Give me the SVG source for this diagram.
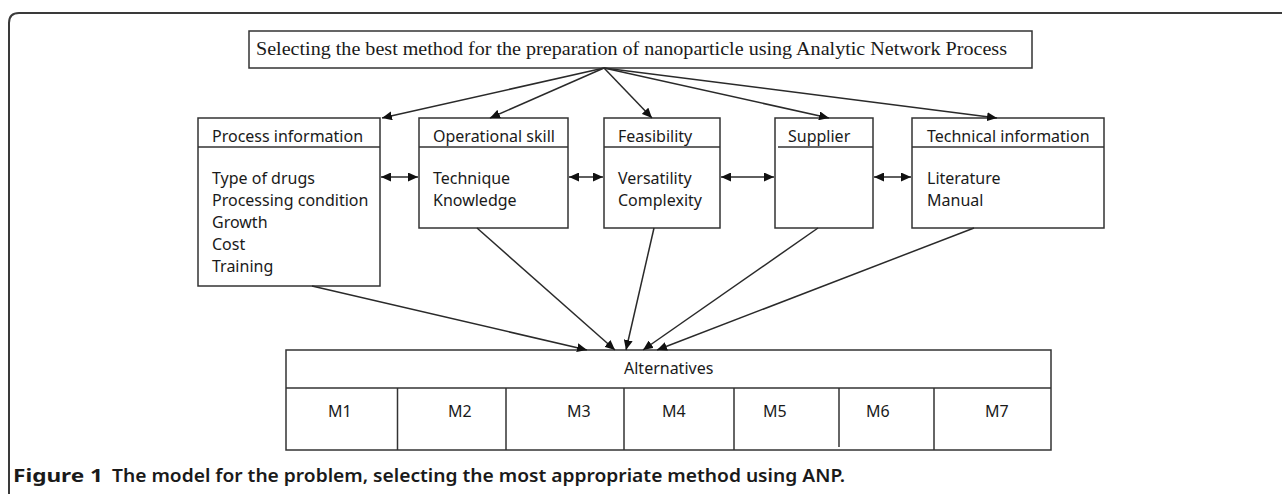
<svg xmlns="http://www.w3.org/2000/svg" width="1282" height="494" viewBox="0 0 1282 494">
  <style>
    .box { fill: #ffffff; stroke: #333333; stroke-width: 1.5; }
    .div { stroke: #333333; stroke-width: 1.5; fill: none; }
    .t { font-family: "Noto Sans", "Open Sans", sans-serif; font-size: 16px; fill: #1a1a1a; }
    .title { font-family: "Liberation Serif", "Times New Roman", serif; font-size: 18px; fill: #1a1a1a; }
    .cap { font-family: "Noto Sans", "Open Sans", sans-serif; font-size: 18px; fill: #1a1a1a; }
    .conn { stroke: #2a2a2a; stroke-width: 1.5; fill: none; }
    .frame { stroke: #3a3a3a; stroke-width: 2; fill: none; }
  </style>
  <defs>
    <marker id="ah" markerUnits="userSpaceOnUse" markerWidth="11" markerHeight="9" refX="10" refY="4.5" orient="auto-start-reverse">
      <path d="M0,0 L10,4.5 L0,9 z" fill="#111111"/>
    </marker>
  </defs>
  <rect x="0" y="0" width="1282" height="494" fill="#ffffff"/>
  <path class="frame" d="M9,494 V23 Q9,13 19,13 H1282"/>

  <g id="goal">
    <rect class="box" x="249" y="31" width="783" height="37"/>
    <text class="title" x="256" y="55" textLength="751" lengthAdjust="spacingAndGlyphs">Selecting the best method for the preparation of nanoparticle using Analytic Network Process</text>
  </g>

  <g id="process-information">
    <rect class="box" x="198" y="118" width="182" height="168"/>
    <line class="div" x1="198" y1="147" x2="380" y2="147"/>
    <text class="t" x="212" y="142">Process information</text>
    <text class="t" x="212" y="184">Type of drugs</text>
    <text class="t" x="212" y="206">Processing condition</text>
    <text class="t" x="212" y="228">Growth</text>
    <text class="t" x="212" y="250">Cost</text>
    <text class="t" x="212" y="272">Training</text>
  </g>

  <g id="operational-skill">
    <rect class="box" x="419" y="118" width="149" height="110"/>
    <line class="div" x1="419" y1="147" x2="568" y2="147"/>
    <text class="t" x="433" y="142">Operational skill</text>
    <text class="t" x="433" y="184">Technique</text>
    <text class="t" x="433" y="206">Knowledge</text>
  </g>

  <g id="feasibility">
    <rect class="box" x="604" y="118" width="116" height="110"/>
    <line class="div" x1="604" y1="147" x2="720" y2="147"/>
    <text class="t" x="618" y="142">Feasibility</text>
    <text class="t" x="618" y="184">Versatility</text>
    <text class="t" x="618" y="206">Complexity</text>
  </g>

  <g id="supplier">
    <rect class="box" x="775" y="118" width="98" height="110"/>
    <line class="div" x1="778" y1="147" x2="873" y2="147"/>
    <text class="t" x="788" y="142">Supplier</text>
  </g>

  <g id="technical-information">
    <rect class="box" x="912" y="118" width="192" height="110"/>
    <line class="div" x1="912" y1="147" x2="1104" y2="147"/>
    <text class="t" x="927" y="142">Technical information</text>
    <text class="t" x="927" y="184">Literature</text>
    <text class="t" x="927" y="206">Manual</text>
  </g>

  <g id="alternatives">
    <rect class="box" x="286" y="350" width="765" height="100"/>
    <line class="div" x1="286" y1="388" x2="1051" y2="388"/>
    <line class="div" x1="397.5" y1="388" x2="397.5" y2="450"/>
    <line class="div" x1="506" y1="388" x2="506" y2="450"/>
    <line class="div" x1="624" y1="388" x2="624" y2="450"/>
    <line class="div" x1="734" y1="388" x2="734" y2="450"/>
    <line class="div" x1="839" y1="388" x2="839" y2="447"/>
    <line class="div" x1="934" y1="388" x2="934" y2="450"/>
    <text class="t" x="624" y="374">Alternatives</text>
    <text class="t" x="328" y="417">M1</text>
    <text class="t" x="448" y="417">M2</text>
    <text class="t" x="567" y="417">M3</text>
    <text class="t" x="662" y="417">M4</text>
    <text class="t" x="763" y="417">M5</text>
    <text class="t" x="866" y="417">M6</text>
    <text class="t" x="985" y="417">M7</text>
  </g>

  <g id="connectors">
    <line class="conn" x1="604" y1="68" x2="382" y2="118" marker-end="url(#ah)"/>
    <line class="conn" x1="604" y1="68" x2="490" y2="118" marker-end="url(#ah)"/>
    <line class="conn" x1="604" y1="68" x2="652" y2="118" marker-end="url(#ah)"/>
    <line class="conn" x1="604" y1="68" x2="829" y2="118" marker-end="url(#ah)"/>
    <line class="conn" x1="604" y1="68" x2="997" y2="118" marker-end="url(#ah)"/>

    <line class="conn" x1="381" y1="177" x2="418" y2="177" marker-start="url(#ah)" marker-end="url(#ah)"/>
    <line class="conn" x1="569" y1="177" x2="603" y2="177" marker-start="url(#ah)" marker-end="url(#ah)"/>
    <line class="conn" x1="721" y1="177" x2="774" y2="177" marker-start="url(#ah)" marker-end="url(#ah)"/>
    <line class="conn" x1="874" y1="177" x2="911" y2="177" marker-start="url(#ah)" marker-end="url(#ah)"/>

    <line class="conn" x1="312" y1="286" x2="587" y2="350" marker-end="url(#ah)"/>
    <line class="conn" x1="477" y1="228" x2="615" y2="350" marker-end="url(#ah)"/>
    <line class="conn" x1="654" y1="228" x2="626" y2="350" marker-end="url(#ah)"/>
    <line class="conn" x1="818" y1="228" x2="643" y2="350" marker-end="url(#ah)"/>
    <line class="conn" x1="974" y1="228" x2="657" y2="350" marker-end="url(#ah)"/>
  </g>

  <g id="caption">
    <text class="cap" x="13" y="482" font-weight="bold" textLength="90" lengthAdjust="spacingAndGlyphs">Figure 1</text>
    <text class="cap" x="112" y="482" font-weight="600" textLength="733" lengthAdjust="spacingAndGlyphs">The model for the problem, selecting the most appropriate method using ANP.</text>
  </g>
</svg>
